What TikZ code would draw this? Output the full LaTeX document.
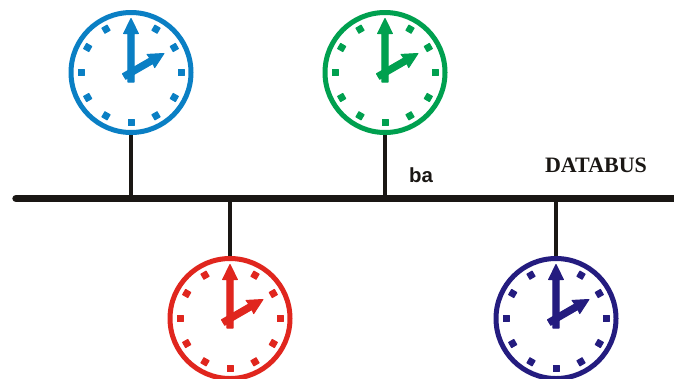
\documentclass[tikz,border=0pt]{standalone}
\usepackage{fontspec}
\setmainfont{Liberation Serif}
\newfontfamily\arialfont{Liberation Sans}
\definecolor{cblue}{HTML}{0A7FC4}
\definecolor{cgreen}{HTML}{00A04F}
\definecolor{cred}{HTML}{E0261E}
\definecolor{cnavy}{HTML}{241C7F}
\definecolor{cbus}{HTML}{1A1714}
\tikzset{
  x=1pt,y=-1pt,
  clockface/.style={circle,draw=#1,line width=5pt,minimum size=120pt,inner sep=0pt,fill=white},
  wire/.style={draw=cbus,line width=3.6pt},
  busline/.style={draw=cbus,line width=7.4pt,line cap=round},
  dialmark/.style={fill=#1,draw=#1,line width=1pt,line join=round},
  pics/clockdial/.style={code={
    \begin{scope}[x=1pt,y=1pt]
    \foreach \a in {30,60,...,330}
      \path[dialmark=#1,rotate=\a] (-3,53) -- (3,53) -- (3,47) -- (-3,47) -- cycle;
    \path[dialmark=#1] (-3.2,-9.5) -- (-3.2,39) -- (-7.4,39) -- (0,54) -- (7.4,39) -- (3.2,39) -- (3.2,-9.5) -- cycle;
    \path[dialmark=#1,rotate=-60] (-3.2,-8) -- (-3.2,23.5) -- (-7.6,23) -- (0,38) -- (7.6,23) -- (3.2,23.5) -- (3.2,-8) -- cycle;
    \end{scope}
  }},
  buslabel/.style={inner sep=0pt,anchor=base,text=cbus}
}
\begin{document}
\begin{tikzpicture}
\useasboundingbox (0,0) rectangle (674,378);
\clip (0,0) rectangle (674,378);
\coordinate (busL) at (16,198.5);
\coordinate (busR) at (680,198.5);
\node[clockface=cblue] (c1) at (131,72.5) {};
\node[clockface=cgreen] (c2) at (385,72.5) {};
\node[clockface=cred] (c3) at (230,318.5) {};
\node[clockface=cnavy] (c4) at (556,318.5) {};
\draw[wire] (c1.south) -- (c1.south |- busL);
\draw[wire] (c2.south) -- (c2.south |- busL);
\draw[wire] (c3.north) -- (c3.north |- busL);
\draw[wire] (c4.north) -- (c4.north |- busL);
\draw[busline] (busL) -- (busR);
\pic at (c1.center) {clockdial=cblue};
\pic at (c2.center) {clockdial=cgreen};
\pic at (c3.center) {clockdial=cred};
\pic at (c4.center) {clockdial=cnavy};
\node[buslabel,font=\arialfont\bfseries\fontsize{20.4}{24}\selectfont] (ba) at (421,182) {ba};
\node[buslabel,font=\bfseries\fontsize{22}{26}\selectfont] (db) at (596,172) {DATABUS};
\end{tikzpicture}
\end{document}
